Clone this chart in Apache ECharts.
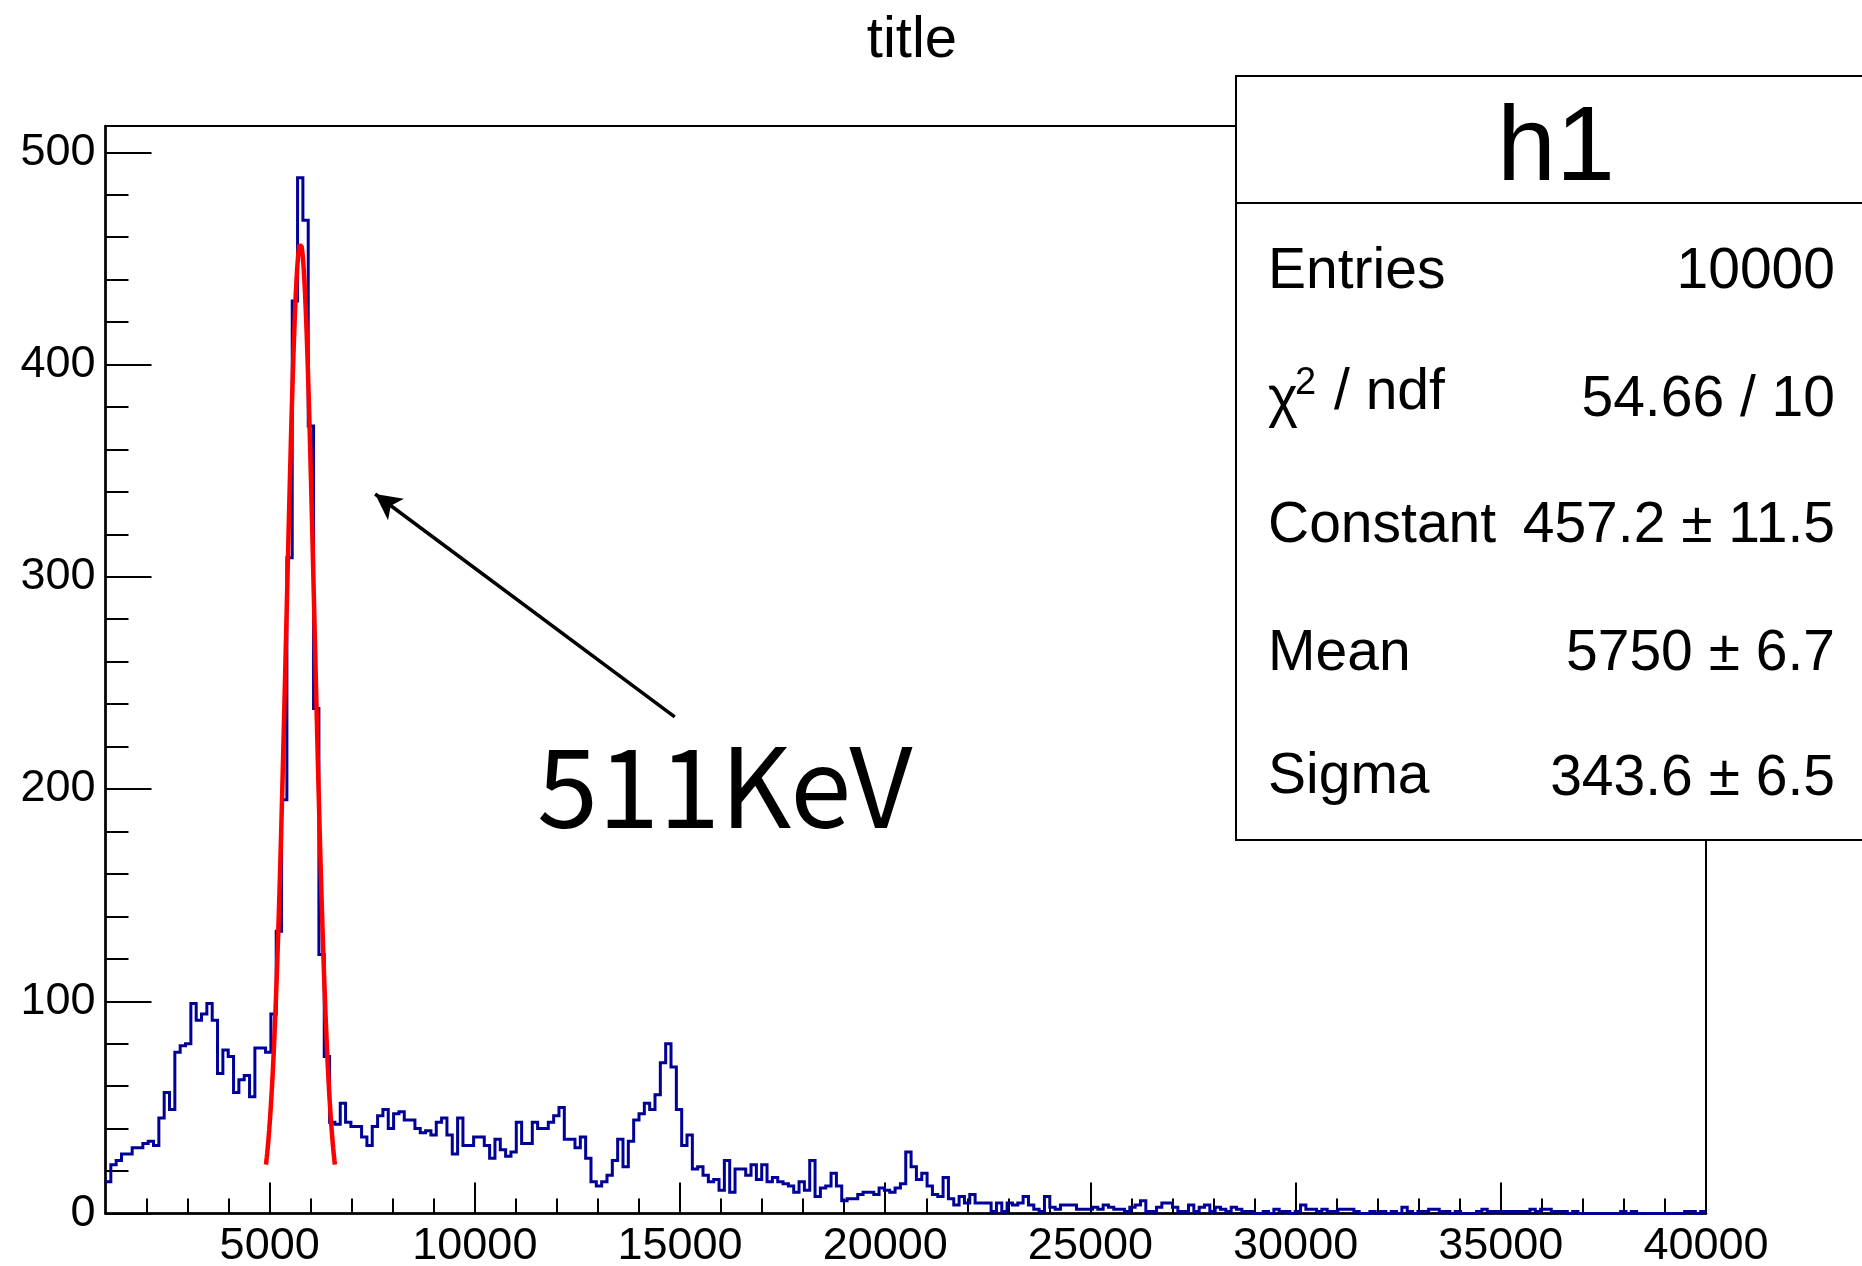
<!DOCTYPE html>
<html>
<head>
<meta charset="utf-8">
<script src="https://cdn.jsdelivr.net/npm/echarts@6/dist/echarts.min.js"></script>
<style>
  html, body { margin: 0; padding: 0; background: #fff; }
  #chart { width: 1862px; height: 1266px; }
</style>
</head>
<body>
<div id="chart"></div>
<script>
// Histogram binning: 300 bins from 1000 to 40000
const X_MIN = 1000;
const X_MAX = 40000;
const BIN_WIDTH = 130;
const Y_MAX = 512.4;

// Bin contents of h1, one entry per bin
const counts = [
  15, 23, 25, 28, 28, 31, 31, 33, 34, 32,
  45, 57, 49, 76, 79, 80, 99, 91, 94, 99,
  91, 66, 77, 74, 57, 63, 65, 55, 78, 78,
  76, 94, 133, 195, 309, 430, 488, 468, 371, 238,
  122, 74, 43, 42, 52, 43, 41, 41, 36, 32,
  41, 46, 49, 40, 47, 48, 44, 44, 40, 38,
  39, 37, 43, 45, 37, 28, 45, 32, 32, 36,
  36, 32, 26, 35, 30, 27, 29, 43, 33, 33,
  43, 40, 40, 43, 46, 50, 35, 35, 31, 36,
  26, 15, 13, 15, 18, 25, 35, 22, 34, 44,
  47, 52, 49, 56, 71, 80, 69, 49, 32, 37,
  21, 22, 18, 15, 16, 11, 25, 10, 21, 21,
  18, 23, 16, 23, 15, 17, 15, 14, 13, 10,
  15, 11, 25, 8, 12, 13, 19, 13, 6, 7,
  7, 9, 10, 10, 9, 12, 11, 10, 12, 14,
  29, 22, 16, 19, 13, 9, 8, 17, 7, 4,
  8, 5, 9, 5, 5, 5, 1, 5, 1, 5,
  4, 5, 8, 4, 2, 1, 8, 3, 2, 4,
  4, 4, 2, 2, 2, 3, 2, 4, 3, 2,
  2, 1, 3, 4, 6, 1, 1, 3, 5, 5,
  3, 1, 1, 4, 1, 3, 4, 1, 3, 2,
  1, 3, 2, 1, 1, 0, 0, 1, 0, 2,
  1, 1, 0, 1, 4, 2, 2, 1, 2, 1,
  1, 2, 2, 2, 1, 0, 0, 1, 0, 1,
  0, 1, 0, 3, 1, 0, 1, 1, 2, 2,
  1, 1, 0, 1, 0, 0, 0, 1, 2, 1,
  1, 1, 1, 1, 1, 1, 1, 2, 1, 2,
  2, 1, 1, 1, 0, 1, 0, 0, 0, 0,
  0, 0, 0, 0, 1, 0, 1, 0, 0, 0,
  0, 0, 0, 0, 0, 0, 1, 1, 0, 1
];

// Axis ticks
const xMajorTicks = [5000, 10000, 15000, 20000, 25000, 30000, 35000, 40000];
const xMinorTicks = [2000, 3000, 4000, 6000, 7000, 8000, 9000, 11000, 12000, 13000, 14000,
  16000, 17000, 18000, 19000, 21000, 22000, 23000, 24000, 26000, 27000, 28000, 29000,
  31000, 32000, 33000, 34000, 36000, 37000, 38000, 39000];
const yMajorTicks = [0, 100, 200, 300, 400, 500];
const yMinorTicks = [20, 40, 60, 80, 120, 140, 160, 180, 220, 240, 260, 280,
  320, 340, 360, 380, 420, 440, 460, 480];

// Gaussian fit result
const fitConstant = 457.2;
const fitMean = 5750;
const fitSigma = 343.6;
const fitRange = [4910, 6590];

// Annotation arrow (data coordinates) and its label
const arrowFrom = [14870, 234];
const arrowTo = [7570, 339];
const peakLabel = '511KeV';

// Statistics box rows
const statsTitle = 'h1';
const statsLabels = ['Entries', '', 'Constant', 'Mean', 'Sigma'];
const statsValues = ['10000', '54.66 / 10', '457.2 \u00b1 11.5', '5750 \u00b1 6.7', '343.6 \u00b1 6.5'];

// Histogram outline: each bin contributes its flat top
const histLine = [];
counts.forEach((c, i) => {
  const lo = X_MIN + i * BIN_WIDTH;
  histLine.push([lo, c], [lo + BIN_WIDTH, c]);
});

// Fit curve sampled across the fit range
const fitLine = [];
for (let x = fitRange[0]; x <= fitRange[1]; x += 10) {
  const u = (x - fitMean) / fitSigma;
  fitLine.push([x, fitConstant * Math.exp(-0.5 * u * u)]);
}

const FONT = '"Liberation Sans", Arial, Helvetica, sans-serif';
const black = '#000';

const chart = echarts.init(document.getElementById('chart'), null, { renderer: 'canvas' });

const axisCommon = { type: 'value', splitLine: { show: false }, animation: false };
const plainNumber = v => String(v);

// stats box geometry (pixels)
const box = { x: 1236, y: 76, w: 640, h: 764, head: 127 };
const rowMid = [272, 396, 526, 654, 777];
const valMid = [272, 400, 526, 654, 779];

const graphics = [
  { type: 'rect', shape: { x: box.x, y: box.y, width: box.w, height: box.h },
    style: { fill: '#fff', stroke: black, lineWidth: 2 }, z: 100 },
  { type: 'line', shape: { x1: box.x, y1: box.y + box.head, x2: box.x + box.w, y2: box.y + box.head },
    style: { stroke: black, lineWidth: 2 }, z: 101 },
  { type: 'text', x: 1556, y: 151, z: 101,
    style: { text: statsTitle, font: '106px ' + FONT, fill: black, align: 'center', verticalAlign: 'middle' } },
  // chi-square label with superscript
  { type: 'text', x: 1268, y: 400, z: 101,
    style: { text: '\u03c7', font: '57px ' + FONT, fill: black, align: 'left', verticalAlign: 'middle' } },
  { type: 'text', x: 1295, y: 384, z: 101,
    style: { text: '2', font: '38px ' + FONT, fill: black, align: 'left', verticalAlign: 'middle' } },
  { type: 'text', x: 1334, y: 393, z: 101,
    style: { text: '/ ndf', font: '57px ' + FONT, fill: black, align: 'left', verticalAlign: 'middle' } },
  { type: 'text', x: 537, y: 786, z: 50,
    style: { text: peakLabel, font: '110px "Noto Sans CJK JP", ' + FONT, fill: black, align: 'left', verticalAlign: 'middle' } }
];
statsLabels.forEach((t, i) => {
  if (t) graphics.push({ type: 'text', x: 1268, y: rowMid[i], z: 101,
    style: { text: t, font: '57px ' + FONT, fill: black, align: 'left', verticalAlign: 'middle' } });
});
statsValues.forEach((t, i) => {
  graphics.push({ type: 'text', x: 1835, y: valMid[i], z: 101,
    style: { text: t, font: '57px ' + FONT, fill: black, align: 'right', verticalAlign: 'middle' } });
});

chart.setOption({
  animation: false,
  backgroundColor: '#fff',
  title: {
    text: 'title', left: 907, top: 7, textAlign: 'center',
    textStyle: { fontFamily: FONT, fontSize: 58, fontWeight: 'normal', color: black }
  },
  grid: {
    left: 105.5, right: 156, top: 126, bottom: 52.5,
    containLabel: false, outerBoundsMode: 'none',
    show: true, borderColor: black, borderWidth: 2, backgroundColor: 'transparent'
  },
  xAxis: [
    Object.assign({}, axisCommon, {
      min: X_MIN, max: X_MAX, position: 'bottom',
      axisLine: { show: true, onZero: false, lineStyle: { color: black, width: 2.5 } },
      axisTick: { show: true, inside: true, length: 31, customValues: xMajorTicks, lineStyle: { color: black, width: 2 } },
      axisLabel: { show: true, customValues: xMajorTicks, formatter: plainNumber, margin: 11, color: black, fontFamily: FONT, fontSize: 45 }
    }),
    Object.assign({}, axisCommon, {
      min: X_MIN, max: X_MAX, position: 'bottom',
      axisLine: { show: false, onZero: false },
      axisTick: { show: true, inside: true, length: 15, customValues: xMinorTicks, lineStyle: { color: black, width: 2 } },
      axisLabel: { show: false }
    })
  ],
  yAxis: [
    Object.assign({}, axisCommon, {
      min: 0, max: Y_MAX, position: 'left',
      axisLine: { show: true, onZero: false, lineStyle: { color: black, width: 2.5 } },
      axisTick: { show: true, inside: true, length: 46, customValues: yMajorTicks, lineStyle: { color: black, width: 2 } },
      axisLabel: { show: true, customValues: yMajorTicks, formatter: plainNumber, margin: 10, color: black, fontFamily: FONT, fontSize: 45 }
    }),
    Object.assign({}, axisCommon, {
      min: 0, max: Y_MAX, position: 'left',
      axisLine: { show: false, onZero: false },
      axisTick: { show: true, inside: true, length: 23, customValues: yMinorTicks, lineStyle: { color: black, width: 2 } },
      axisLabel: { show: false }
    })
  ],
  series: [
    {
      name: 'h1', type: 'line', data: histLine, xAxisIndex: 0, yAxisIndex: 0,
      symbol: 'none', clip: true, z: 3,
      lineStyle: { color: '#000099', width: 3, join: 'miter' }
    },
    {
      name: 'gaus', type: 'line', data: fitLine, xAxisIndex: 0, yAxisIndex: 0,
      symbol: 'none', smooth: false, z: 4,
      lineStyle: { color: '#ff0000', width: 4.5 },
      markLine: {
        silent: true, animation: false,
        symbol: ['none', 'arrow'], symbolSize: [20, 26],
        lineStyle: { color: black, width: 3.5, type: 'solid' },
        label: { show: false },
        data: [[{ coord: arrowFrom }, { coord: arrowTo }]]
      }
    }
  ],
  graphic: graphics
});
</script>
</body>
</html>
